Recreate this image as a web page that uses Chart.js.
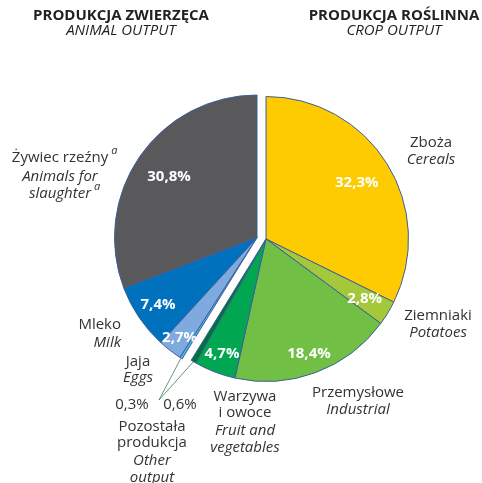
<!DOCTYPE html>
<html>
<head>
<meta charset="utf-8">
<script src="https://cdn.jsdelivr.net/npm/chart.js@4.4.0/dist/chart.umd.min.js"></script>
<style>
  html, body { margin: 0; padding: 0; background: #fff; }
  canvas { display: block; }
</style>
</head>
<body>
<canvas id="myChart" width="482" height="483"></canvas>
<script>
// slices, clockwise from 12 o'clock: crop output first, then animal output
const categories = ['Zboża', 'Ziemniaki', 'Przemysłowe', 'Warzywa i owoce', 'Pozostała produkcja roślinna',
  'Pozostała produkcja zwierzęca', 'Jaja', 'Mleko', 'Żywiec rzeźny'];
const shares = [32.3, 2.8, 18.4, 4.7, 0.6, 0.3, 2.7, 7.4, 30.8];
const group = ['crop', 'crop', 'crop', 'crop', 'crop', 'animal', 'animal', 'animal', 'animal'];
const colors = ['#fecb00', '#a5c83b', '#71bf44', '#00a650', '#00733a', '#3fb8ea', '#7faadf', '#0071bc', '#59595b'];
const showPct = [true, true, true, true, false, false, true, true, true];
const pctRadius = [0.75, 0.81, 0.86, 0.86, 0, 0, 0.89, 0.84, 0.75];

const FONT = '"Open Sans", "Noto Sans", sans-serif';
const fmt = v => v.toFixed(1).replace('.', ',') + '%';

// animal part is pulled out to the left
const animalShift = { x: -9, y: -1.5 };

const explodePlugin = {
  id: 'explode',
  afterDatasetsUpdate(chart) {
    const meta = chart.getDatasetMeta(0);
    meta.data.forEach((arc, i) => {
      if (group[i] === 'animal') {
        arc.x += animalShift.x;
        arc.y += animalShift.y;
      }
    });
  }
};

// lines: [text, font, step, superscript]
function textLines(ctx, lines, x, y, align) {
  ctx.textAlign = align || 'center';
  lines.forEach(l => {
    ctx.font = l[1] + ' ' + FONT;
    ctx.fillText(l[0], x, y);
    if (l[3]) {
      const w = ctx.measureText(l[0]).width;
      const right = align === 'right' ? x : x + w / 2;
      ctx.save();
      ctx.font = 'italic 11px ' + FONT;
      ctx.textAlign = 'left';
      ctx.fillText(l[3], right + 3, y - 7);
      ctx.restore();
    }
    y += l[2] || 17;
  });
}

const labelsPlugin = {
  id: 'labels',
  afterDraw(chart) {
    const ctx = chart.ctx;
    const meta = chart.getDatasetMeta(0);
    ctx.save();
    ctx.textBaseline = 'middle';

    // percentages inside the slices
    ctx.fillStyle = '#ffffff';
    ctx.font = 'bold 15px ' + FONT;
    ctx.textAlign = 'center';
    meta.data.forEach((arc, i) => {
      if (!showPct[i]) return;
      const mid = (arc.startAngle + arc.endAngle) / 2;
      const r = arc.outerRadius * pctRadius[i];
      ctx.fillText(fmt(shares[i]), arc.x + Math.cos(mid) * r, arc.y + Math.sin(mid) * r);
    });

    // leader lines for the two small "other" slices
    const target = { x: 159, y: 400 };
    ctx.strokeStyle = '#3f7f52';
    ctx.lineWidth = 0.8;
    [4, 5].forEach(i => {
      const arc = meta.data[i];
      const mid = (arc.startAngle + arc.endAngle) / 2;
      const r = arc.outerRadius;
      ctx.beginPath();
      ctx.moveTo(arc.x + Math.cos(mid) * r, arc.y + Math.sin(mid) * r);
      ctx.lineTo(target.x, target.y);
      ctx.stroke();
    });

    // headers
    ctx.fillStyle = '#231f20';
    textLines(ctx, [['PRODUKCJA ZWIERZĘCA', 'bold 15px', 15], ['ANIMAL OUTPUT', 'italic 15px']], 121, 16);
    textLines(ctx, [['PRODUKCJA ROŚLINNA', 'bold 15px', 15], ['CROP OUTPUT', 'italic 15px']], 394, 16);

    // category names
    ctx.fillStyle = '#333333';
    textLines(ctx, [['Zboża', '15px'], ['Cereals', 'italic 15px']], 431, 143);
    textLines(ctx, [['Ziemniaki', '15px'], ['Potatoes', 'italic 15px']], 438, 316);
    textLines(ctx, [['Przemysłowe', '15px'], ['Industrial', 'italic 15px']], 358, 393);
    textLines(ctx, [['Warzywa', '15px', 16], ['i owoce', '15px', 18], ['Fruit and', 'italic 15px', 17], ['vegetables', 'italic 15px']], 245, 397);
    textLines(ctx, [['Pozostała', '15px', 16], ['produkcja', '15px', 18], ['Other', 'italic 15px', 17], ['output', 'italic 15px']], 152, 427);
    textLines(ctx, [[fmt(shares[5]), '15px']], 132, 405);
    textLines(ctx, [[fmt(shares[4]), '15px']], 180, 405);
    textLines(ctx, [['Jaja', '15px', 16], ['Eggs', 'italic 15px']], 138, 362);
    textLines(ctx, [['Mleko', '15px', 18], ['Milk', 'italic 15px']], 121, 325, 'right');
    textLines(ctx, [['Żywiec rzeźny', '15px', 19, 'a'], ['Animals for', 'italic 15px', 17], ['slaughter', 'italic 15px', 17, 'a']], 60, 158);
    ctx.restore();
  }
};

new Chart(document.getElementById('myChart'), {
  type: 'pie',
  data: {
    labels: categories,
    datasets: [{
      data: shares,
      backgroundColor: colors,
      borderColor: '#3d5f9c',
      borderWidth: 1
    }]
  },
  options: {
    responsive: false,
    animation: false,
    layout: { padding: { left: 123, right: 73, top: 96, bottom: 101 } },
    plugins: { legend: { display: false }, tooltip: { enabled: false } }
  },
  plugins: [explodePlugin, labelsPlugin]
});
</script>
</body>
</html>
